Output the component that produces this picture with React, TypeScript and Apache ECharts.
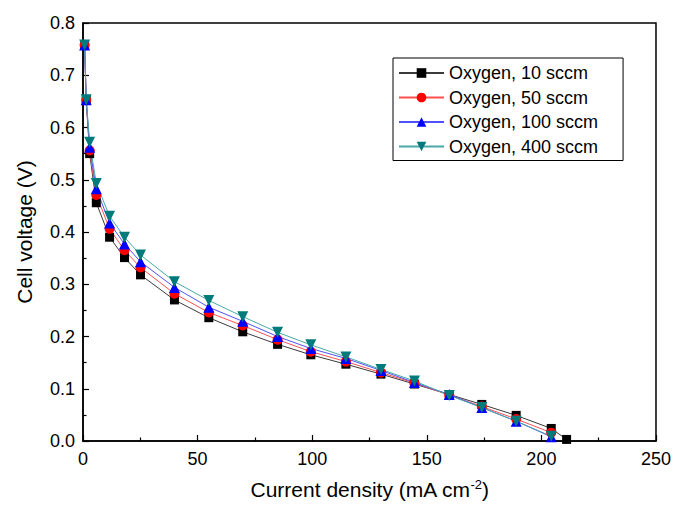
import React, { useEffect, useRef } from "react";
import * as echarts from "echarts";

const currentDensity = [0.7, 1.4, 2.9, 5.8, 11.6, 18.1, 25.1, 39.9, 54.9, 69.7, 84.9, 99.4, 114.7, 130, 144.6, 159.8, 174, 189, 204.3];
const currentDensity10 = [...currentDensity, 211];
const oxygen10 = [0.758, 0.652, 0.550, 0.456, 0.390, 0.351, 0.318, 0.270, 0.236, 0.209, 0.185, 0.165, 0.147, 0.128, 0.109, 0.089, 0.070, 0.049, 0.024, 0.003];
const oxygen50 = [0.758, 0.652, 0.556, 0.471, 0.406, 0.365, 0.332, 0.282, 0.246, 0.221, 0.194, 0.171, 0.152, 0.131, 0.111, 0.088, 0.066, 0.042, 0.016];
const oxygen100 = [0.758, 0.653, 0.562, 0.483, 0.417, 0.377, 0.343, 0.294, 0.256, 0.229, 0.200, 0.177, 0.158, 0.135, 0.112, 0.089, 0.064, 0.038, 0.008];
const oxygen400 = [0.758, 0.653, 0.572, 0.493, 0.430, 0.390, 0.356, 0.305, 0.269, 0.238, 0.208, 0.184, 0.161, 0.137, 0.115, 0.087, 0.064, 0.038, 0.009];
const seriesNames = ["Oxygen, 10 sccm", "Oxygen, 50 sccm", "Oxygen, 100 sccm", "Oxygen, 400 sccm"];

const FONT = "Liberation Sans, Arial, sans-serif";

function pairs(xs: number[], ys: number[]) {
  return ys.map((y, i) => [xs[i], y]);
}

export default function App() {
  const ref = useRef<HTMLDivElement>(null);
  useEffect(() => {
    if (!ref.current) return;
    const chart = echarts.init(ref.current, undefined, { renderer: "svg" });
    const mk = (name: string, data: number[][], color: string, lineColor: string, symbol: string, size: number, rotate = 0) => ({
      name,
      type: "line",
      data,
      symbol,
      symbolSize: size,
      symbolRotate: rotate,
      showAllSymbol: true,
      itemStyle: { color, borderWidth: 0 },
      lineStyle: { color: lineColor, width: 1 },
      emphasis: { disabled: true },
    });
    chart.setOption({
      animation: false,
      textStyle: { fontFamily: FONT },
      grid: { left: 83, right: 17, top: 23, bottom: 60, show: true, borderColor: "#000", borderWidth: 1.5, backgroundColor: "transparent" },
      legend: {
        left: 393,
        top: 58,
        orient: "vertical",
        itemWidth: 45,
        itemHeight: 12,
        itemGap: 6.5,
        padding: [6, 25, 5, 5],
        borderColor: "#000",
        borderWidth: 1,
        textStyle: { fontFamily: FONT, fontSize: 18, color: "#000" },
        data: seriesNames,
      },
      xAxis: {
        type: "value",
        min: 0,
        max: 250,
        interval: 50,
        name: "Current density (mA cm{sup|-2})",
        nameLocation: "middle",
        nameGap: 37,
        nameTextStyle: {
          fontFamily: FONT,
          fontSize: 21,
          color: "#000",
          rich: { sup: { fontSize: 13, fontFamily: FONT, color: "#000", verticalAlign: "top", padding: [0, 0, 10, 0] } },
        },
        axisLine: { show: true, lineStyle: { color: "#000", width: 1.5 } },
        axisTick: { show: true, inside: true, length: 6, lineStyle: { color: "#000", width: 1.2 } },
        minorTick: { show: true, splitNumber: 2, length: 3.5, lineStyle: { color: "#000", width: 1.2 } },
        axisLabel: { fontFamily: FONT, fontSize: 18, color: "#000", margin: 9 },
        splitLine: { show: false },
      },
      yAxis: {
        type: "value",
        min: 0,
        max: 0.8,
        interval: 0.1,
        name: "Cell voltage (V)",
        nameLocation: "middle",
        nameGap: 48,
        nameTextStyle: { fontFamily: FONT, fontSize: 21, color: "#000" },
        axisLine: { show: true, lineStyle: { color: "#000", width: 1.5 } },
        axisTick: { show: true, inside: true, length: 6, lineStyle: { color: "#000", width: 1.2 } },
        minorTick: { show: true, splitNumber: 2, length: 3.5, lineStyle: { color: "#000", width: 1.2 } },
        axisLabel: { fontFamily: FONT, fontSize: 18, color: "#000", margin: 8, formatter: (v: number) => v.toFixed(1) },
        splitLine: { show: false },
      },
      series: [
        mk(seriesNames[0], pairs(currentDensity10, oxygen10), "#000000", "#3a3a3a", "rect", 9),
        mk(seriesNames[1], pairs(currentDensity, oxygen50), "#ff0000", "#ff5050", "circle", 10),
        mk(seriesNames[2], pairs(currentDensity, oxygen100), "#0000ff", "#5050ff", "triangle", 11),
        mk(seriesNames[3], pairs(currentDensity, oxygen400), "#007a7a", "#4aa8a8", "triangle", 11, 180),
      ],
    });
    return () => chart.dispose();
  }, []);
  return <div ref={ref} style={{ width: 674, height: 505, position: "absolute", left: 0, top: 0, background: "#fff" }} />;
}
